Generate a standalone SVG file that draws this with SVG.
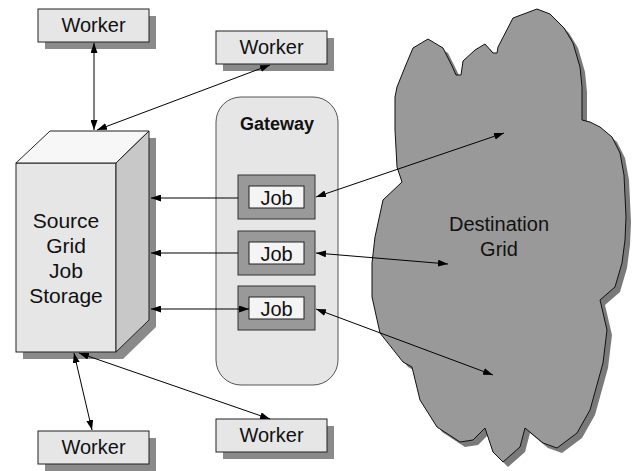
<svg xmlns="http://www.w3.org/2000/svg" width="636" height="471" viewBox="0 0 636 471">
  <style>
    .lbl { font-family: "Liberation Sans", Arial, sans-serif; font-size: 20px; fill: #111; text-anchor: middle; }
    .bold { font-weight: bold; font-size: 18px; }
    .box { fill: #e6e6e6; stroke: #222; stroke-width: 1; }
    .shadow { fill: #8a8a8a; stroke: none; }
    .joboutter { fill: #999999; stroke: #333; stroke-width: 1; }
    .jobinner { fill: #f4f4f4; stroke: #222; stroke-width: 1; }
    .conn { stroke: #000; stroke-width: 1; fill: none; }
    .both { marker-start: url(#arrow); marker-end: url(#arrow); }
    .one { marker-end: url(#arrow); }
  </style>
  <defs>
    <marker id="arrow" viewBox="0 0 10 7" refX="10" refY="3.5" markerWidth="10" markerHeight="7" markerUnits="userSpaceOnUse" orient="auto-start-reverse">
      <path d="M0,0 L10,3.5 L0,7 z" fill="#000"/>
    </marker>
    <path id="cloudShape" d="M395,97 L397,87 L405,67 L413,48 L428,39 L443,48 L452,66 L456,75 L461,75 L463,61 L475,50 L485,44 L493,53 L497,53 L498,47 L513,18 L537,9 L550,14 L564,28 L573,43 L580,67 L582,87 L582,120 L590,122 L600,127 L612,137 L620,153 L624,175 L626,217 L625,240 L622,263 L615,287 L600,300 L607,330 L603,363 L590,410 L577,433 L557,448 L543,443 L525,428 L520,447 L503,462 L493,452 L485,428 L473,440 L460,442 L437,427 L420,400 L412,367 L403,362 L380,333 L372,297 L372,263 L375,237 L383,200 L402,182 L397,167 L395,130 Z"/>
  </defs>

  <!-- Destination grid cloud -->
  <g id="destination-grid">
    <use href="#cloudShape" transform="translate(5,5)" fill="#7a7a7a"/>
    <use href="#cloudShape" fill="#999999" stroke="#111" stroke-width="1" stroke-linejoin="round"/>
    <text class="lbl" x="499" y="231">Destination</text>
    <text class="lbl" x="499" y="256">Grid</text>
  </g>

  <!-- Gateway with jobs -->
  <g id="gateway">
    <rect x="216" y="97" width="122" height="288" rx="25" ry="25" fill="#e6e6e6" stroke="#555" stroke-width="1"/>
    <text class="lbl bold" x="277" y="130">Gateway</text>
  </g>
  <g id="job1">
    <rect class="joboutter" x="238" y="175" width="77" height="44"/>
    <rect class="jobinner" x="249" y="186" width="55" height="22"/>
    <text class="lbl" x="276.5" y="205">Job</text>
  </g>
  <g id="job2">
    <rect class="joboutter" x="238" y="231" width="77" height="44"/>
    <rect class="jobinner" x="249" y="242" width="55" height="22"/>
    <text class="lbl" x="276.5" y="261">Job</text>
  </g>
  <g id="job3">
    <rect class="joboutter" x="238" y="286" width="77" height="44"/>
    <rect class="jobinner" x="249" y="297" width="55" height="22"/>
    <text class="lbl" x="276.5" y="316">Job</text>
  </g>

  <!-- Source grid job storage block -->
  <g id="source-storage">
    <polygon class="shadow" points="57,138 156,138 156,327 123,359 23,359 23,170"/>
    <rect x="16" y="163" width="100" height="189" fill="#e6e6e6" stroke="#222"/>
    <polygon points="16,163 50,131 149,131 116,163" fill="#f7f7f7" stroke="#222"/>
    <polygon points="116,163 149,131 149,320 116,352" fill="#c8c8c8" stroke="#222"/>
    <text class="lbl" x="66" y="228" style="font-size:21px">Source</text>
    <text class="lbl" x="66" y="253" style="font-size:21px">Grid</text>
    <text class="lbl" x="66" y="278" style="font-size:21px">Job</text>
    <text class="lbl" x="66" y="303" style="font-size:21px">Storage</text>
  </g>

  <!-- Workers -->
  <g id="worker1">
    <rect class="shadow" x="45" y="16" width="111" height="33"/>
    <rect class="box" x="38" y="9" width="111" height="33"/>
    <text class="lbl" x="93.5" y="32">Worker</text>
  </g>
  <g id="worker2">
    <rect class="shadow" x="223" y="38" width="111" height="33"/>
    <rect class="box" x="216" y="31" width="111" height="33"/>
    <text class="lbl" x="271.5" y="54">Worker</text>
  </g>
  <g id="worker3">
    <rect class="shadow" x="45" y="438" width="111" height="33"/>
    <rect class="box" x="38" y="431" width="111" height="33"/>
    <text class="lbl" x="93.5" y="454">Worker</text>
  </g>
  <g id="worker4">
    <rect class="shadow" x="223" y="426" width="111" height="33"/>
    <rect class="box" x="216" y="419" width="111" height="33"/>
    <text class="lbl" x="271.5" y="442">Worker</text>
  </g>

  <!-- Connectors -->
  <g id="connectors">
    <line class="conn both" x1="94" y1="43" x2="94" y2="130"/>
    <line class="conn both" x1="270" y1="65" x2="97" y2="130"/>
    <line class="conn one" x1="238" y1="198" x2="151" y2="198"/>
    <line class="conn one" x1="238" y1="253" x2="151" y2="253"/>
    <line class="conn both" x1="151" y1="309" x2="249" y2="309"/>
    <line class="conn both" x1="504" y1="133" x2="316" y2="197"/>
    <line class="conn both" x1="448" y1="264" x2="316" y2="253"/>
    <line class="conn both" x1="493" y1="375" x2="316" y2="309"/>
    <line class="conn both" x1="74" y1="353" x2="92" y2="430"/>
    <line class="conn both" x1="79" y1="353" x2="270" y2="419"/>
  </g>
</svg>
